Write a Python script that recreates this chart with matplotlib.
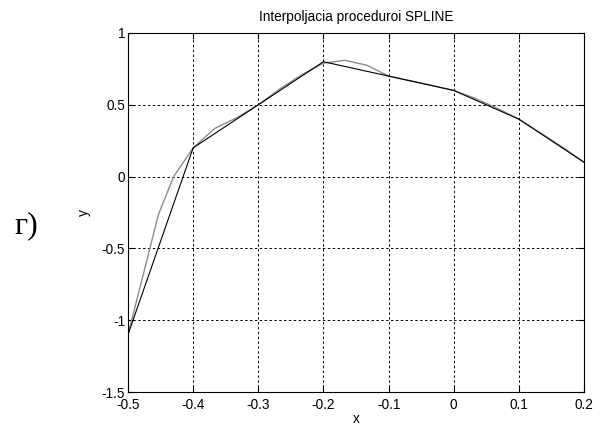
import matplotlib
matplotlib.use('Agg')
import matplotlib.pyplot as plt

# data nodes (black polyline)
x_nodes = [-0.5, -0.4, -0.3, -0.2, -0.1, 0.0, 0.1, 0.2]
y_nodes = [-1.1, 0.2, 0.5, 0.8, 0.7, 0.6, 0.4, 0.1]

# spline curve (gray)
x_spl = [-0.5, -0.453, -0.43, -0.4, -0.367, -0.333, -0.3, -0.267, -0.233,
         -0.2, -0.167, -0.133, -0.1, -0.067, -0.033, 0.0, 0.033, 0.067,
         0.1, 0.133, 0.167, 0.2]
y_spl = [-1.1, -0.26, 0.0, 0.2, 0.335, 0.41, 0.5, 0.61, 0.71,
         0.79, 0.81, 0.775, 0.7, 0.668, 0.635, 0.6, 0.545, 0.475,
         0.4, 0.305, 0.205, 0.1]

x_ticks = [-0.5, -0.4, -0.3, -0.2, -0.1, 0.0, 0.1, 0.2]
x_labels = ['-0.5', '-0.4', '-0.3', '-0.2', '-0.1', '0', '0.1', '0.2']
y_ticks = [-1.5, -1.0, -0.5, 0.0, 0.5, 1.0]
y_labels = ['-1.5', '-1', '-0.5', '0', '0.5', '1']

plt.rcParams['font.family'] = ['Liberation Sans', 'DejaVu Sans']
FS = 9.8

fig = plt.figure(figsize=(6.04, 4.30), dpi=100)
ax = fig.add_axes([128 / 604, 1 - 392 / 430, 456 / 604, 359 / 430])

ax.plot(x_spl, y_spl, color='#8c8c8c', lw=1.0)
ax.plot(x_nodes, y_nodes, color='black', lw=0.8)

ax.set_xlim(-0.5, 0.2)
ax.set_ylim(-1.5, 1.0)
ax.set_xticks(x_ticks)
ax.set_xticklabels(x_labels)
ax.set_yticks(y_ticks)
ax.set_yticklabels(y_labels)
ax.tick_params(direction='in', length=4, width=0.8, labelsize=FS,
               top=True, right=True)
ax.tick_params(axis='x', pad=4)
ax.tick_params(axis='y', pad=2)
ax.grid(True, color='black', linestyle=(0, (2.5, 2.5)), lw=0.7)
for s in ax.spines.values():
    s.set_linewidth(0.8)

ax.set_title('Interpoljacia proceduroi SPLINE', fontsize=FS, pad=9)
ax.set_xlabel('x', fontsize=FS, labelpad=0)
ax.set_ylabel('y', fontsize=FS, labelpad=8)

fig.text(26 / 604, 1 - 226 / 430, 'г)', family='Liberation Serif',
         fontsize=23, ha='center', va='center')

fig.savefig('out.png', dpi=100)
